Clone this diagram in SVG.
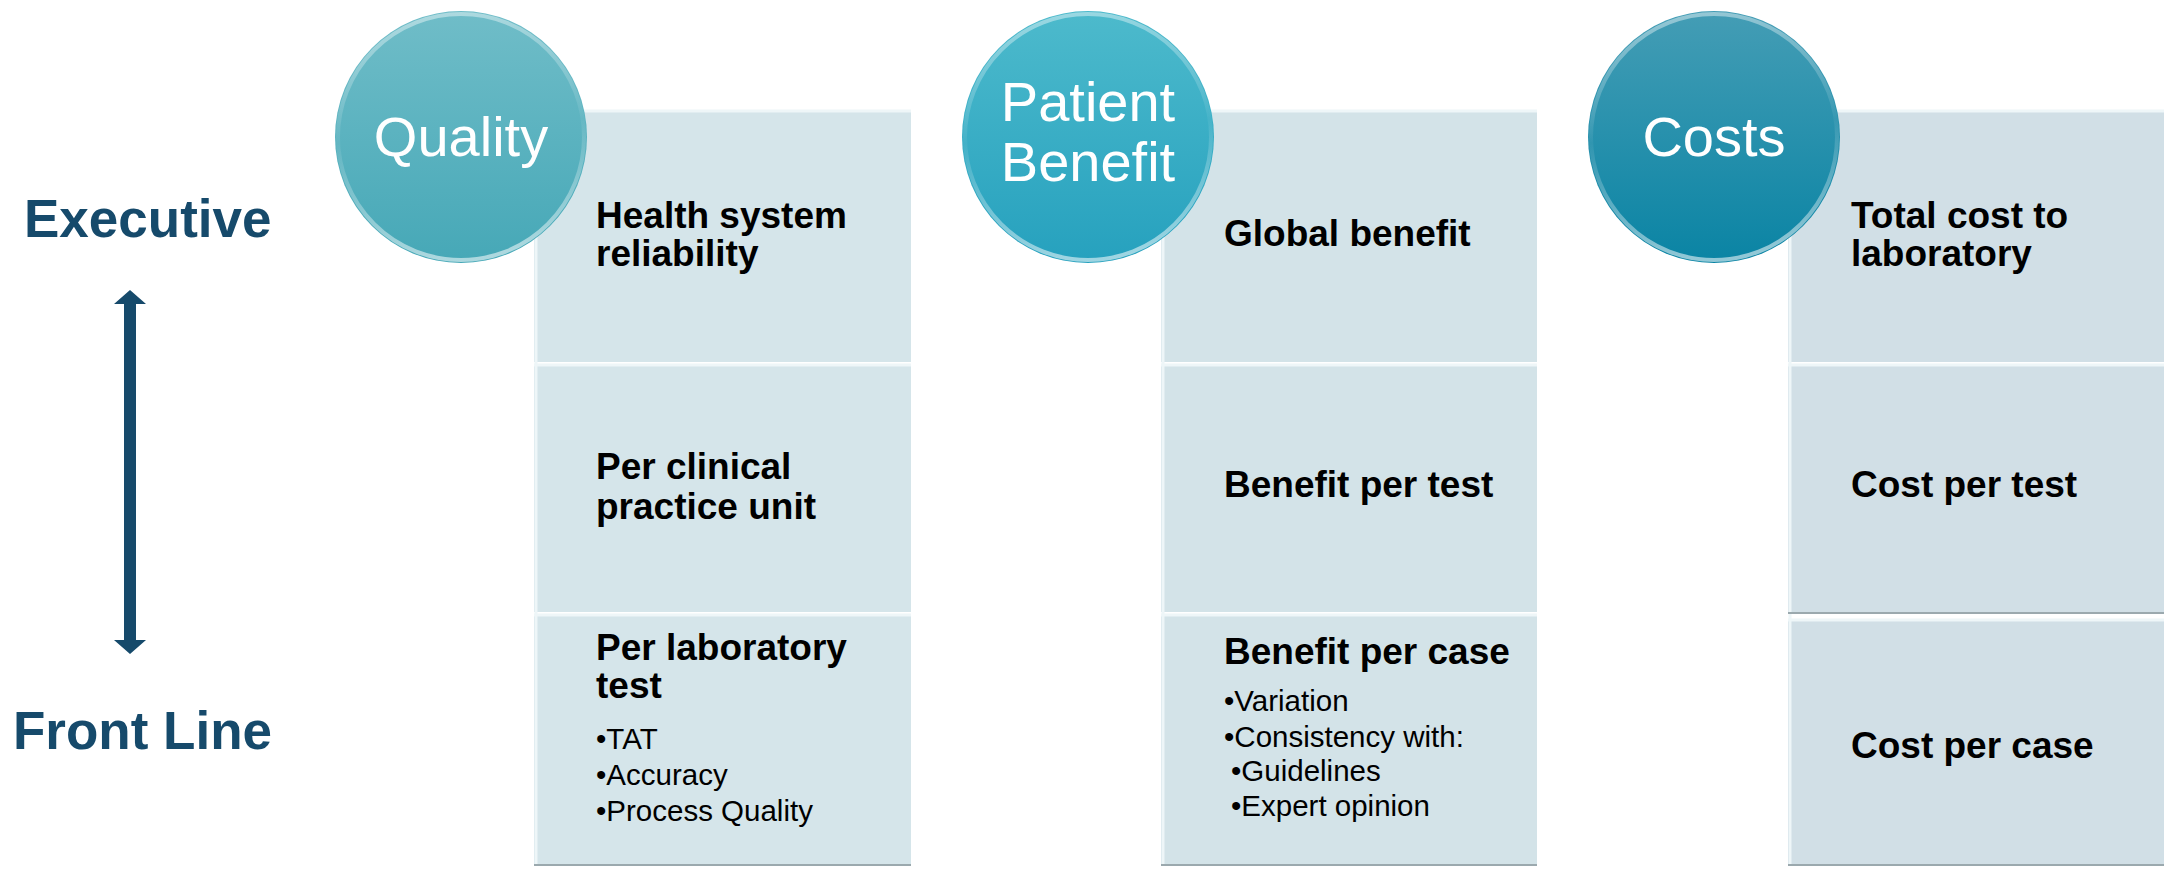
<svg xmlns="http://www.w3.org/2000/svg" width="2164" height="873" viewBox="0 0 2164 873">
<style>
.lvl{font-family:"Liberation Sans",Arial,sans-serif;font-weight:bold;font-size:53px;fill:#164A6B}
.hd{font-family:"Liberation Sans",Arial,sans-serif;font-size:56px;fill:#FFFFFF}
.bt{font-family:"Liberation Sans",Arial,sans-serif;font-weight:bold;font-size:37px;fill:#000000}
.bl{font-family:"Liberation Sans",Arial,sans-serif;font-size:29.5px;fill:#000000}
.hl{stroke:#EEF6F8;stroke-width:3}
.sh{stroke:#9BA9AE;stroke-width:2}
</style>
<defs>
<linearGradient id="gQ" x1="0" y1="0" x2="0" y2="1"><stop offset="0" stop-color="#70BDC8"/><stop offset="1" stop-color="#46A8B7"/></linearGradient>
<linearGradient id="gP" x1="0" y1="0" x2="0" y2="1"><stop offset="0" stop-color="#4DBACC"/><stop offset="1" stop-color="#26A1BE"/></linearGradient>
<linearGradient id="gC" x1="0" y1="0" x2="0" y2="1"><stop offset="0" stop-color="#449DB5"/><stop offset="1" stop-color="#0A84A4"/></linearGradient>
<linearGradient id="rim" x1="0.2" y1="0" x2="0.3" y2="1"><stop offset="0" stop-color="#FFFFFF" stop-opacity="0.45"/><stop offset="0.5" stop-color="#FFFFFF" stop-opacity="0.05"/><stop offset="1" stop-color="#FFFFFF" stop-opacity="0.55"/></linearGradient>
</defs>

<g id="level-labels">
<text class="lvl" x="24" y="237">Executive</text>
<text class="lvl" x="13" y="749">Front Line</text>
</g>

<g id="connectors">
<path d="M130,290 L146,304 L136,304 L136,640 L146,640 L130,654 L114,640 L124,640 L124,304 L114,304 Z" fill="#164A6B"/>
</g>

<g id="quality-col">
<rect x="534" y="110" width="377" height="252" fill="#D5E5EA"/>
<rect x="534" y="364" width="377" height="248" fill="#D5E5EA"/>
<rect x="534" y="614" width="377" height="251" fill="#D5E5EA"/>
<line class="hl" x1="534" y1="111" x2="911" y2="111"/>
<line class="hl" x1="534" y1="365" x2="911" y2="365"/>
<line class="hl" x1="534" y1="615" x2="911" y2="615"/>
<line class="hl" x1="536" y1="110" x2="536" y2="865"/>
<line class="sh" x1="534" y1="865" x2="911" y2="865"/>
<text class="bt" x="596" y="228">Health system</text>
<text class="bt" x="596" y="266">reliability</text>
<text class="bt" x="596" y="479">Per clinical</text>
<text class="bt" x="596" y="519">practice unit</text>
<text class="bt" x="596" y="660">Per laboratory</text>
<text class="bt" x="596" y="698">test</text>
<text class="bl" x="596" y="749">•TAT</text>
<text class="bl" x="596" y="785">•Accuracy</text>
<text class="bl" x="596" y="821">•Process Quality</text>
</g>

<g id="patient-col">
<rect x="1161" y="110" width="376" height="252" fill="#D3E3E8"/>
<rect x="1161" y="364" width="376" height="248" fill="#D3E3E8"/>
<rect x="1161" y="614" width="376" height="251" fill="#D3E3E8"/>
<line class="hl" x1="1161" y1="111" x2="1537" y2="111"/>
<line class="hl" x1="1161" y1="365" x2="1537" y2="365"/>
<line class="hl" x1="1161" y1="615" x2="1537" y2="615"/>
<line class="hl" x1="1163" y1="110" x2="1163" y2="865"/>
<line class="sh" x1="1161" y1="865" x2="1537" y2="865"/>
<text class="bt" x="1224" y="246">Global benefit</text>
<text class="bt" x="1224" y="497">Benefit per test</text>
<text class="bt" x="1224" y="664">Benefit per case</text>
<text class="bl" x="1224" y="711">•Variation</text>
<text class="bl" x="1224" y="747">•Consistency with:</text>
<text class="bl" x="1231" y="781">•Guidelines</text>
<text class="bl" x="1231" y="816">•Expert opinion</text>
</g>

<g id="costs-col">
<rect x="1788" y="110" width="376" height="252" fill="#D1DFE6"/>
<rect x="1788" y="364" width="376" height="248" fill="#D1DFE6"/>
<rect x="1788" y="619" width="376" height="246" fill="#D1DFE6"/>
<line class="hl" x1="1788" y1="111" x2="2164" y2="111"/>
<line class="hl" x1="1788" y1="365" x2="2164" y2="365"/>
<line class="hl" x1="1788" y1="620" x2="2164" y2="620"/>
<line class="hl" x1="1790" y1="110" x2="1790" y2="865"/>
<line class="sh" x1="1788" y1="613" x2="2164" y2="613"/>
<line class="sh" x1="1788" y1="865" x2="2164" y2="865"/>
<text class="bt" x="1851" y="228">Total cost to</text>
<text class="bt" x="1851" y="266">laboratory</text>
<text class="bt" x="1851" y="497">Cost per test</text>
<text class="bt" x="1851" y="758">Cost per case</text>
</g>

<g id="quality">
<circle cx="461" cy="137" r="126" fill="url(#gQ)"/>
<circle cx="461" cy="137" r="123" fill="none" stroke="url(#rim)" stroke-width="4"/>
<text class="hd" x="461" y="156" text-anchor="middle">Quality</text>
</g>

<g id="patient-benefit">
<circle cx="1088" cy="137" r="126" fill="url(#gP)"/>
<circle cx="1088" cy="137" r="123" fill="none" stroke="url(#rim)" stroke-width="4"/>
<text class="hd" x="1088" y="121" text-anchor="middle">Patient</text>
<text class="hd" x="1088" y="181" text-anchor="middle">Benefit</text>
</g>

<g id="costs">
<circle cx="1714" cy="137" r="126" fill="url(#gC)"/>
<circle cx="1714" cy="137" r="123" fill="none" stroke="url(#rim)" stroke-width="4"/>
<text class="hd" x="1714" y="156" text-anchor="middle">Costs</text>
</g>
</svg>
